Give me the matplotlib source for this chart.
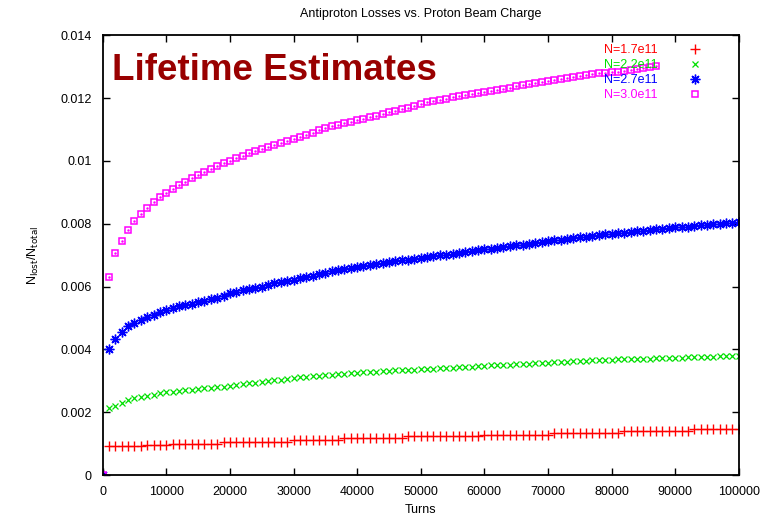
import matplotlib.pyplot as plt

plt.rcParams['font.family'] = ['Liberation Sans', 'DejaVu Sans']

turns = [1000 * k for k in range(101)]

loss_17 = [
    0.0,
    0.00093, 0.00093, 0.00093, 0.00093, 0.00093, 0.00093, 0.00096, 0.00096, 0.00096, 0.00096,
    0.00100, 0.00100, 0.00100, 0.00100, 0.00100, 0.00100, 0.00100, 0.00100, 0.00105, 0.00105,
    0.00105, 0.00105, 0.00105, 0.00105, 0.00105, 0.00105, 0.00105, 0.00105, 0.00105, 0.00112,
    0.00112, 0.00112, 0.00112, 0.00112, 0.00112, 0.00112, 0.00112, 0.00118, 0.00118, 0.00118,
    0.00118, 0.00118, 0.00118, 0.00118, 0.00118, 0.00118, 0.00118, 0.00124, 0.00124, 0.00124,
    0.00124, 0.00124, 0.00124, 0.00124, 0.00124, 0.00124, 0.00124, 0.00124, 0.00124, 0.00129,
    0.00129, 0.00129, 0.00129, 0.00129, 0.00129, 0.00129, 0.00129, 0.00129, 0.00129, 0.00129,
    0.00135, 0.00135, 0.00135, 0.00135, 0.00135, 0.00135, 0.00135, 0.00135, 0.00135, 0.00135,
    0.00135, 0.00140, 0.00140, 0.00140, 0.00140, 0.00140, 0.00140, 0.00140, 0.00140, 0.00140,
    0.00140, 0.00140, 0.00146, 0.00146, 0.00146, 0.00146, 0.00146, 0.00146, 0.00146, 0.00146,
]

loss_22 = [
    0.0,
    0.00212, 0.00221, 0.00230, 0.00239, 0.00245, 0.00249, 0.00253, 0.00256, 0.00260, 0.00263,
    0.00265, 0.00267, 0.00270, 0.00272, 0.00274, 0.00276, 0.00278, 0.00280, 0.00282, 0.00284,
    0.00287, 0.00289, 0.00292, 0.00294, 0.00297, 0.00299, 0.00302, 0.00304, 0.00307, 0.00309,
    0.00311, 0.00312, 0.00314, 0.00316, 0.00318, 0.00319, 0.00321, 0.00322, 0.00324, 0.00325,
    0.00327, 0.00328, 0.00329, 0.00330, 0.00331, 0.00333, 0.00334, 0.00335, 0.00336, 0.00337,
    0.00338, 0.00339, 0.00340, 0.00341, 0.00342, 0.00343, 0.00344, 0.00345, 0.00347, 0.00348,
    0.00349, 0.00350, 0.00351, 0.00352, 0.00353, 0.00354, 0.00355, 0.00356, 0.00357, 0.00358,
    0.00359, 0.00360, 0.00361, 0.00362, 0.00363, 0.00364, 0.00365, 0.00366, 0.00366, 0.00367,
    0.00368, 0.00368, 0.00369, 0.00370, 0.00370, 0.00371, 0.00372, 0.00372, 0.00373, 0.00374,
    0.00374, 0.00375, 0.00376, 0.00376, 0.00377, 0.00377, 0.00378, 0.00378, 0.00379, 0.00380,
]

loss_27 = [
    0.0,
    0.00400, 0.00434, 0.00455, 0.00473, 0.00484, 0.00494, 0.00503, 0.00511, 0.00518, 0.00525,
    0.00532, 0.00537, 0.00542, 0.00546, 0.00551, 0.00555, 0.00560, 0.00565, 0.00571, 0.00578,
    0.00584, 0.00588, 0.00591, 0.00595, 0.00600, 0.00605, 0.00610, 0.00614, 0.00618, 0.00622,
    0.00627, 0.00631, 0.00635, 0.00639, 0.00643, 0.00648, 0.00652, 0.00656, 0.00659, 0.00662,
    0.00666, 0.00669, 0.00672, 0.00675, 0.00678, 0.00681, 0.00683, 0.00685, 0.00688, 0.00690,
    0.00693, 0.00696, 0.00699, 0.00702, 0.00705, 0.00708, 0.00711, 0.00713, 0.00716, 0.00718,
    0.00721, 0.00723, 0.00726, 0.00728, 0.00731, 0.00733, 0.00736, 0.00739, 0.00741, 0.00744,
    0.00747, 0.00749, 0.00752, 0.00754, 0.00757, 0.00759, 0.00761, 0.00764, 0.00766, 0.00768,
    0.00770, 0.00772, 0.00774, 0.00776, 0.00778, 0.00780, 0.00782, 0.00784, 0.00786, 0.00788,
    0.00789, 0.00791, 0.00793, 0.00795, 0.00796, 0.00798, 0.00799, 0.00801, 0.00803, 0.00804,
]

# the 3.0e11 run stops at 87000 turns
loss_30 = [
    0.0,
    0.00631, 0.00707, 0.00745, 0.00780, 0.00808, 0.00830, 0.00851, 0.00869, 0.00886, 0.00898,
    0.00909, 0.00924, 0.00933, 0.00944, 0.00954, 0.00965, 0.00974, 0.00984, 0.00992, 0.01000,
    0.01008, 0.01016, 0.01024, 0.01031, 0.01038, 0.01045, 0.01052, 0.01058, 0.01064, 0.01070,
    0.01076, 0.01083, 0.01090, 0.01097, 0.01104, 0.01110, 0.01115, 0.01119, 0.01124, 0.01129,
    0.01134, 0.01139, 0.01144, 0.01149, 0.01154, 0.01159, 0.01164, 0.01169, 0.01175, 0.01181,
    0.01186, 0.01190, 0.01194, 0.01198, 0.01202, 0.01206, 0.01209, 0.01212, 0.01216, 0.01219,
    0.01223, 0.01226, 0.01230, 0.01233, 0.01237, 0.01240, 0.01244, 0.01247, 0.01250, 0.01254,
    0.01257, 0.01260, 0.01263, 0.01266, 0.01269, 0.01272, 0.01275, 0.01278, 0.01280, 0.01282,
    0.01284, 0.01287, 0.01289, 0.01292, 0.01295, 0.01298, 0.01301,
]

labels = ["N=1.7e11", "N=2.2e11", "N=2.7e11", "N=3.0e11"]
yticks = [0, 0.002, 0.004, 0.006, 0.008, 0.01, 0.012, 0.014]
ytick_labels = ["0", "0.002", "0.004", "0.006", "0.008", "0.01", "0.012", "0.014"]
xticks = [0, 10000, 20000, 30000, 40000, 50000, 60000, 70000, 80000, 90000, 100000]

fig = plt.figure(figsize=(7.72, 5.17), dpi=100)
ax = fig.add_axes([0.133, 0.081, 0.824, 0.851])

ax.plot(turns, loss_17, ls='none', marker='+', ms=7, mew=1.0, color='#ff0000', label=labels[0])
ax.plot(turns, loss_22, ls='none', marker='x', ms=5, mew=0.9, color='#00e000', label=labels[1])
ax.plot(turns, loss_27, ls='none', marker=(8, 2, 0), ms=7, mew=1.0, color='#0000ff', label=labels[2])
ax.plot(turns[:len(loss_30)], loss_30, ls='none', marker='s', ms=4.6, mew=1.1,
        mfc='none', color='#ff00ff', label=labels[3])
# small dot in the middle of each square, gnuplot style
ax.plot(turns[:len(loss_30)], loss_30, ls='none', marker='.', ms=1.5, color='#ff00ff')

ax.set_xlim(0, 100000)
ax.set_ylim(0, 0.014)
ax.set_xticks(xticks)
ax.set_xticklabels([str(t) for t in xticks])
ax.set_yticks(yticks)
ax.set_yticklabels(ytick_labels)
ax.tick_params(direction='in', length=5, width=1, labelsize=9, top=True, right=True, pad=8)
for sp in ax.spines.values():
    sp.set_linewidth(1.3)

ax.set_title("Antiproton Losses vs. Proton Beam Charge", fontsize=9, pad=13)
ax.set_xlabel("Turns", fontsize=9, labelpad=4)
ax.set_ylabel(r"N$_{\rm lost}$/N$_{\rm total}$", fontsize=9, labelpad=14)

leg = ax.legend(loc='upper right', frameon=False, markerfirst=False, labelcolor='linecolor',
                fontsize=9, handlelength=1.0, handletextpad=2.5, labelspacing=0.25,
                borderaxespad=0.3, bbox_to_anchor=(0.955, 1.0))

ax.text(0.015, 0.92, "Lifetime Estimates", transform=ax.transAxes, fontsize=26.5,
        fontweight='bold', color='#990000', va='center', ha='left')

fig.savefig("out.png", dpi=100)
